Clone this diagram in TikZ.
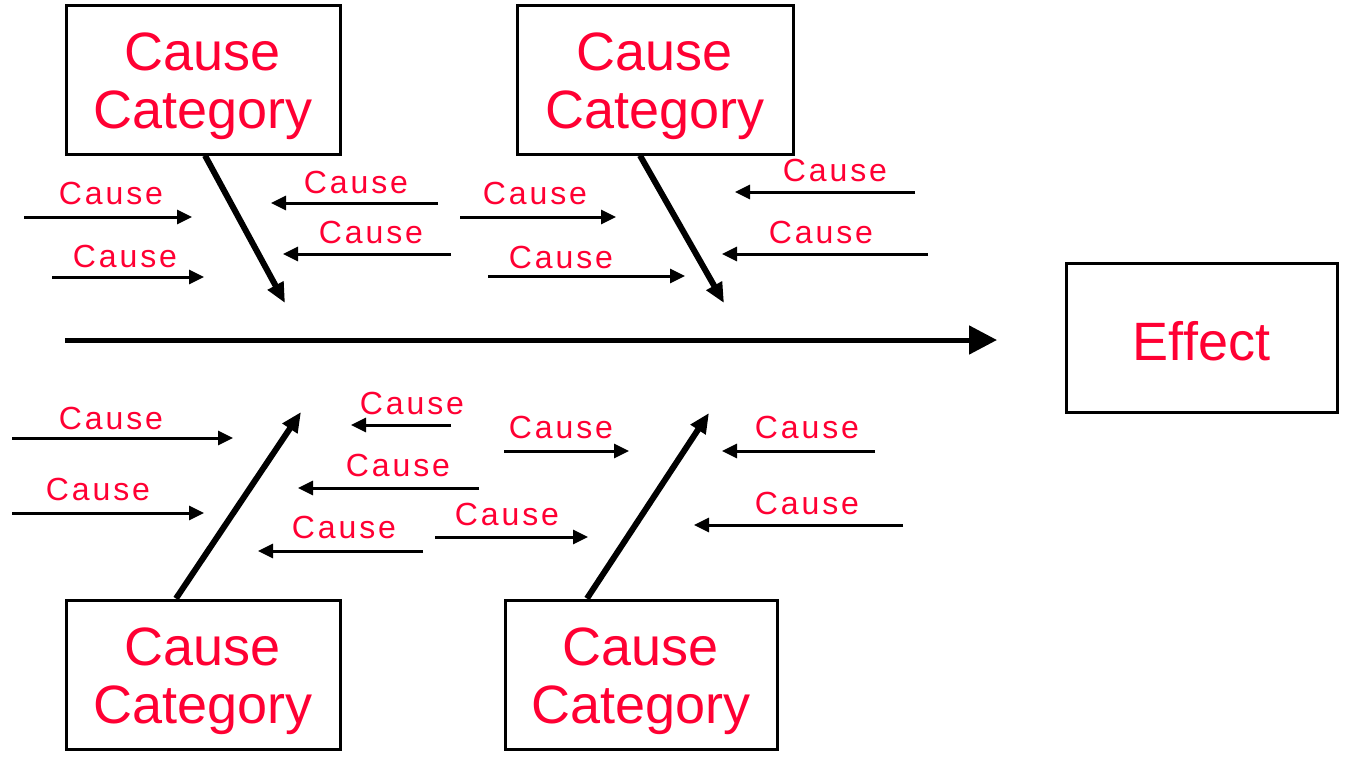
\documentclass[tikz,border=0pt]{standalone}
\usepackage{fontspec}
\setmainfont{Liberation Sans}
\newfontfamily\causefont[LetterSpace=9]{Liberation Sans}
\usetikzlibrary{arrows.meta}
\definecolor{causered}{RGB}{255,0,51}
\begin{document}
\begin{tikzpicture}[x=0.5pt,y=-0.5pt,
 catbox/.style={draw,line width=1.5pt,minimum height=74.5pt,inner sep=0pt},
 cattext/.style={text=causered,font=\fontsize{27}{29}\selectfont,align=center,inner sep=0pt},
 causetext/.style={text=causered,font=\causefont\fontsize{16}{18}\selectfont,inner sep=0pt},
 causearrow/.style={line width=1.5pt,-{Triangle[length=7.5pt,width=7pt]}},
 bone/.style={line width=3pt,-{Triangle[length=10pt,width=8.5pt]}},
 spine/.style={line width=2.5pt,-{Triangle[length=14pt,width=14pt]}}]
\useasboundingbox (0,0) rectangle (1345,756);

% category boxes
\node[catbox,minimum width=137pt] (tl) at (203,79.5) {};
\node[cattext] (tlt) at (203,86) {Cause\\Category};
\node[catbox,minimum width=138pt] (tr) at (655,79.5) {};
\node[cattext] (trt) at (655,86) {Cause\\Category};
\node[catbox,minimum width=137pt] (bl) at (203,674.5) {};
\node[cattext] (blt) at (203,681) {Cause\\Category};
\node[catbox,minimum width=136pt] (br) at (641,674.5) {};
\node[cattext] (brt) at (641,681) {Cause\\Category};

% effect
\node[catbox,minimum width=135.5pt] (eff) at (1201.5,337.5) {};
\node[cattext] (efft) at (1201.5,341) {Effect};

% spine
\coordinate (spS) at (65,340);
\coordinate (spE) at (997,340);
\draw[spine] (spS) -- (spE);

% bones
\coordinate (tlTip) at (285,303);
\coordinate (trTip) at (724,303);
\coordinate (blTip) at (301,412);
\coordinate (brTip) at (709,413);
\draw[bone] ([xshift=1pt]tl.south) -- (tlTip);
\draw[bone] ([xshift=-7.5pt]tr.south) -- (trTip);
\draw[bone] ([xshift=-13.5pt]bl.north) -- (blTip);
\draw[bone] ([xshift=-27pt]br.north) -- (brTip);

% causes: label x, label y, arrow start x, arrow end x, arrow y
\foreach \lx/\ly/\ax/\bx/\ay [count=\i] in {
 110/193/24/192/217,
 124/256/52/204/277,
 355/182/438/271/203,
 370/232/451/283/254,
 534/193/460/616/217,
 560/257/488/685/276,
 834/170/915/735/192,
 820/232/928/722/254,
 110/418/12/233/438,
 97/489/12/204/513,
 411/403/451/351/425,
 397/465/479/298/488,
 343/527/423/258/551,
 560/427/504/629/451,
 506/514/435/588/537,
 806/427/875/722/451,
 806/503/903/694/525}{
 \node[causetext] (c\i) at (\lx+1,\ly) {Cause};
 \coordinate (cs\i) at (\ax,\ay);
 \coordinate (ce\i) at (\bx,\ay);
 \draw[causearrow] (cs\i) -- (ce\i);
}
\end{tikzpicture}
\end{document}
